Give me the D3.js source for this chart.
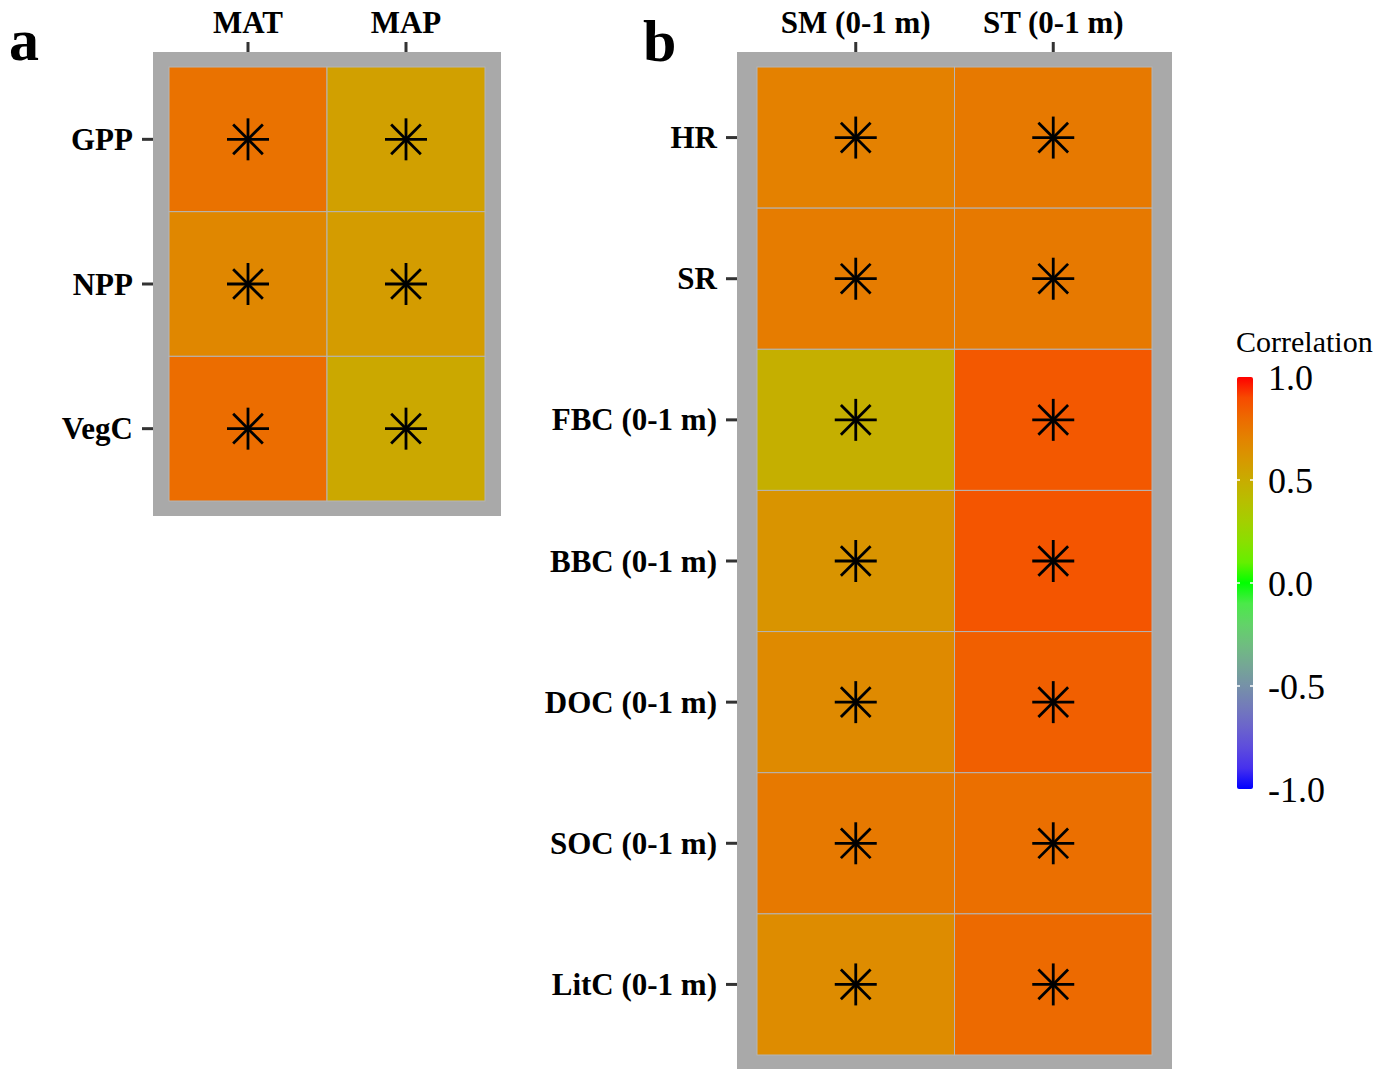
<!DOCTYPE html>
<html lang="en">
<head>
    <meta charset="UTF-8">
    <title>Correlation heatmaps</title>
    <script src="https://d3js.org/d3.v7.min.js"></script>
    <style>
        body { margin: 0; background: #fff; }
        svg text { font-family: "Liberation Serif", "Times New Roman", serif; }
    </style>
</head>
<body>
    <div id="chart"></div>

    <script>
        // Panel a: climate drivers vs vegetation carbon
        const colsA = ["MAT", "MAP"];
        const rowsA = ["GPP", "NPP", "VegC"];
        const valsA = [
            [0.77, 0.56],
            [0.68, 0.58],
            [0.79, 0.52]
        ];
        const sigA = [
            [true, true],
            [true, true],
            [true, true]
        ];

        // Panel b: soil drivers vs soil carbon fluxes / pools
        const colsB = ["SM (0-1 m)", "ST (0-1 m)"];
        const rowsB = ["HR", "SR", "FBC (0-1 m)", "BBC (0-1 m)", "DOC (0-1 m)", "SOC (0-1 m)", "LitC (0-1 m)"];
        const valsB = [
            [0.71, 0.74],
            [0.73, 0.74],
            [0.48, 0.86],
            [0.62, 0.87],
            [0.67, 0.84],
            [0.74, 0.78],
            [0.66, 0.80]
        ];
        const sigB = [
            [true, true],
            [true, true],
            [true, true],
            [true, true],
            [true, true],
            [true, true],
            [true, true]
        ];

        const legendTicks = [-1, -0.5, 0, 0.5, 1];

        const W = 1397, H = 1069;
        const svg = d3.select("#chart")
            .append("svg")
            .attr("width", W)
            .attr("height", H);

        // blue -> green -> red, interpolated in Lab like ggplot
        const color = d3.scaleLinear()
            .domain([-1, 0, 1])
            .range(["#0000FF", "#00FF00", "#FF0000"])
            .interpolate(d3.interpolateLab);

        function panel(opt) {
            const g = svg.append("g");
            const inner = {
                left: opt.frame.x0 + opt.padX, right: opt.frame.x1 - opt.padX,
                top: opt.frame.y0 + opt.padY, bottom: opt.frame.y1 - opt.padBottom
            };

            const x = d3.scaleBand().domain(opt.cols).range([inner.left, inner.right]);
            const y = d3.scaleBand().domain(opt.rows).range([inner.top, inner.bottom]);

            // grey frame
            g.append("rect")
                .attr("x", opt.frame.x0)
                .attr("y", opt.frame.y0)
                .attr("width", opt.frame.x1 - opt.frame.x0)
                .attr("height", opt.frame.y1 - opt.frame.y0)
                .attr("fill", "#a9a9a9");

            const cells = [];
            opt.rows.forEach((r, i) => opt.cols.forEach((c, j) => {
                cells.push({ row: r, col: c, v: opt.vals[i][j], sig: opt.sig[i][j] });
            }));

            g.selectAll(".tile")
                .data(cells)
                .enter()
                .append("rect")
                .attr("class", "tile")
                .attr("x", d => x(d.col))
                .attr("y", d => y(d.row))
                .attr("width", x.bandwidth())
                .attr("height", y.bandwidth())
                .attr("fill", d => color(d.v))
                .attr("stroke", "#b5b5b5")
                .attr("stroke-width", 1);

            // asterisk for significant cells
            const r = 21;
            const spokes = d3.range(4).map(k => k * Math.PI / 4);
            const star = g.selectAll(".star")
                .data(cells.filter(d => d.sig))
                .enter()
                .append("g")
                .attr("class", "star")
                .attr("transform", d => `translate(${x(d.col) + x.bandwidth() / 2},${y(d.row) + y.bandwidth() / 2})`);
            spokes.forEach(a => {
                star.append("line")
                    .attr("x1", -r * Math.cos(a)).attr("y1", -r * Math.sin(a))
                    .attr("x2", r * Math.cos(a)).attr("y2", r * Math.sin(a))
                    .attr("stroke", "#000")
                    .attr("stroke-width", 2.8);
            });

            // axes
            const top = g.append("g")
                .attr("transform", `translate(0,${opt.frame.y0})`)
                .call(d3.axisTop(x).tickSize(10).tickSizeOuter(0).tickPadding(9));
            const left = g.append("g")
                .attr("transform", `translate(${opt.frame.x0},0)`)
                .call(d3.axisLeft(y).tickSize(11).tickSizeOuter(0).tickPadding(9));
            [top, left].forEach(ax => {
                ax.select(".domain").remove();
                ax.selectAll(".tick line").attr("stroke", "#333").attr("stroke-width", 3);
                ax.selectAll(".tick text")
                    .attr("fill", "#000")
                    .attr("font-size", 31)
                    .attr("font-weight", "bold")
                    .style("font-family", "'Liberation Serif', serif");
            });
            left.selectAll(".tick text").attr("dy", "0.34em");

            svg.append("text")
                .attr("x", opt.tag.x)
                .attr("y", opt.tag.y)
                .attr("font-size", 60)
                .attr("font-weight", "bold")
                .text(opt.tag.label);
        }

        panel({
            cols: colsA, rows: rowsA, vals: valsA, sig: sigA,
            frame: { x0: 153, x1: 501, y0: 52, y1: 516 },
            padX: 16, padY: 15, padBottom: 15,
            tag: { label: "a", x: 9, y: 60 }
        });

        panel({
            cols: colsB, rows: rowsB, vals: valsB, sig: sigB,
            frame: { x0: 737, x1: 1172, y0: 52, y1: 1069 },
            padX: 20, padY: 15, padBottom: 14,
            tag: { label: "b", x: 643, y: 61 }
        });

        // colour bar legend
        const bar = { x: 1237, w: 16, y0: 377, y1: 789 };
        const ly = d3.scaleLinear().domain([-1, 1]).range([bar.y1, bar.y0]);

        const grad = svg.append("defs").append("linearGradient")
            .attr("id", "cbar")
            .attr("x1", 0).attr("y1", 1).attr("x2", 0).attr("y2", 0);
        d3.range(0, 1.0001, 0.05).forEach(t => {
            grad.append("stop")
                .attr("offset", t)
                .attr("stop-color", color(-1 + 2 * t));
        });

        svg.append("rect")
            .attr("x", bar.x)
            .attr("y", bar.y0)
            .attr("width", bar.w)
            .attr("height", bar.y1 - bar.y0)
            .attr("rx", 2)
            .attr("fill", "url(#cbar)");

        // little white ticks on both edges of the bar
        const inner = legendTicks.filter(v => v > -1 && v < 1);
        svg.selectAll(".ltick")
            .data(inner.flatMap(v => [{ v, side: 0 }, { v, side: 1 }]))
            .enter()
            .append("line")
            .attr("x1", d => d.side ? bar.x + bar.w - 3 : bar.x)
            .attr("x2", d => d.side ? bar.x + bar.w : bar.x + 3)
            .attr("y1", d => ly(d.v))
            .attr("y2", d => ly(d.v))
            .attr("stroke", "#fff")
            .attr("stroke-width", 1.5);

        const lax = svg.append("g")
            .attr("transform", `translate(${bar.x + bar.w},0)`)
            .call(d3.axisRight(ly).tickValues(legendTicks).tickSize(0).tickPadding(15)
                .tickFormat(d => d.toFixed(1)));
        lax.select(".domain").remove();
        lax.selectAll(".tick text")
            .attr("fill", "#000")
            .attr("font-size", 36)
            .attr("dy", "0.36em")
            .style("font-family", "'Liberation Serif', serif");

        svg.append("text")
            .attr("x", 1236)
            .attr("y", 352)
            .attr("font-size", 30)
            .text("Correlation");
    </script>
</body>
</html>
